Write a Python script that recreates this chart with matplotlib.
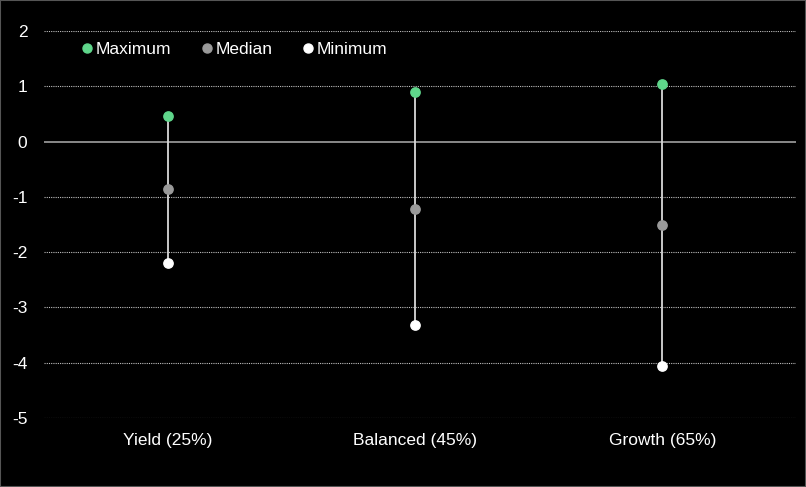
import matplotlib
matplotlib.use("Agg")
from matplotlib import pyplot as plt
from matplotlib.lines import Line2D

plt.rcParams['font.family'] = ['Liberation Sans', 'DejaVu Sans']
plt.rcParams['axes.unicode_minus'] = False

# Data
categories = ["Yield (25%)", "Balanced (45%)", "Growth (65%)"]
maximum = [0.46, 0.90, 1.04]
median = [-0.86, -1.22, -1.51]
minimum = [-2.19, -3.32, -4.06]

green = "#5fd68b"
grey = "#9a9a9a"
white = "#ffffff"

fig = plt.figure(figsize=(8.06, 4.87), dpi=100, facecolor="black")
ax = fig.add_axes([0.0546, 0.1417, 0.933, 0.7946])
ax.set_facecolor("black")

x = list(range(len(categories)))

# grid lines
for yv in range(-5, 3):
    if yv == 0:
        ax.axhline(0, color="#a0a0a0", lw=1.2, zorder=1)
    else:
        ax.axhline(yv, color="#bfbfbf", lw=0.8, ls=(0, (1, 1)), zorder=1)

# range lines
ax.vlines(x, minimum, maximum, color="#d9d9d9", lw=1.3, zorder=2)

ax.scatter(x, maximum, s=45, color=green, zorder=3, label="Maximum")
ax.scatter(x, median, s=45, color=grey, zorder=3, label="Median")
ax.scatter(x, minimum, s=45, color=white, zorder=3, label="Minimum")

ax.set_xlim(-0.5, 2.54)
ax.set_ylim(-5, 2)
ax.set_yticks(range(-5, 3))
ax.set_xticks(x)
ax.set_xticklabels(categories)
ax.tick_params(colors="white", labelsize=12.5, length=0)
ax.tick_params(axis="y", pad=12)
ax.tick_params(axis="x", pad=11)
for s in ax.spines.values():
    s.set_visible(False)

handles = [Line2D([], [], marker="o", ls="", color=c, markersize=6.5)
           for c in (green, grey, white)]
leg = ax.legend(handles, ["Maximum", "Median", "Minimum"], loc="upper left",
                bbox_to_anchor=(0.025, 1.012), ncol=3, frameon=False,
                fontsize=12.5, handletextpad=0.0, columnspacing=1.55,
                handlelength=1.0, labelcolor="white")

# thin border around the image
fig.patches.append(plt.Rectangle((0, 0), 1, 1, transform=fig.transFigure,
                                 fill=False, edgecolor="#555555", lw=1.5))

fig.savefig("out.png", dpi=100, facecolor="black")
